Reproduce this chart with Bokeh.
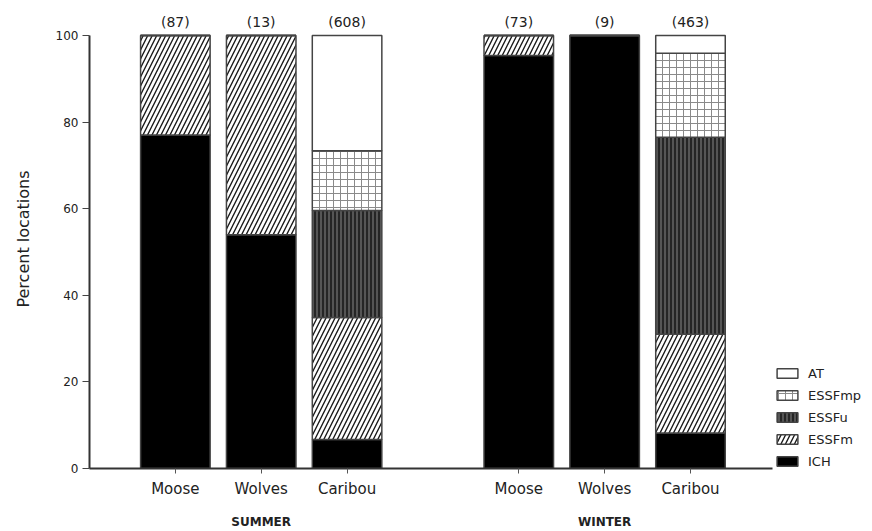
from bokeh.plotting import figure
from bokeh.models import (ColumnDataSource, FixedTicker, Legend, LegendItem,
                          LinearAxis, Range1d)
from bokeh.core.properties import value
from bokeh.embed import file_html
from bokeh.resources import INLINE

seasons = ["SUMMER", "WINTER"]
animals = ["Moose", "Wolves", "Caribou"]
counts = ["(87)", "(13)", "(608)", "(73)", "(9)", "(463)"]
ICH = [77.0, 54.0, 6.7, 95.4, 100.0, 8.2]
ESSFm = [23.0, 46.0, 28.2, 4.6, 0.0, 22.8]
ESSFu = [0.0, 0.0, 24.7, 0.0, 0.0, 45.5]
ESSFmp = [0.0, 0.0, 13.8, 0.0, 0.0, 19.4]
AT = [0.0, 0.0, 26.6, 0.0, 0.0, 4.1]
zones = ["ICH", "ESSFm", "ESSFu", "ESSFmp", "AT"]
yticks = [0, 20, 40, 60, 80, 100]

# category positions: one slot gap between seasons
step = len(animals) + 1
xpos = [g * step + i for g in range(len(seasons)) for i in range(len(animals))]
xlabels = [a for s in seasons for a in animals]
gpos = [g * step + (len(animals) - 1) // 2 for g in range(len(seasons))]

source = ColumnDataSource(dict(x=xpos, ICH=ICH, ESSFm=ESSFm, ESSFu=ESSFu,
                               ESSFmp=ESSFmp, AT=AT, counts=counts,
                               ylab=[103] * len(xpos)))

FONT = "DejaVu Sans"
p = figure(width=872, height=531, x_range=Range1d(-1.0, 8.12),
           y_range=Range1d(0, 106),
           output_backend="svg", toolbar_location=None,
           min_border_left=89, min_border_right=0, min_border_top=9,
           min_border_bottom=63, x_axis_type=None)
p.outline_line_color = None
p.xgrid.visible = False
p.ygrid.visible = False

fills = ["black", "white", "#555555", "white", "white"]
hatches = [" ", "/", "|", "+", " "]
hcolors = ["black", "#1a1a1a", "#151515", "#8a8a8a", "black"]
hscales = [8, 9, 4, 7, 8]
hweights = [1, 1.4, 1.5, 1, 1]

renderers = p.vbar_stack(zones, x="x", width=0.81, source=source,
                         fill_color=fills, hatch_pattern=hatches,
                         hatch_color=hcolors, hatch_scale=hscales,
                         hatch_weight=hweights,
                         line_color="#444444", line_width=1.5)

p.text(x="x", y="ylab", text="counts", source=source,
       text_font=value(FONT), text_font_size="14px", text_color="#222222",
       text_align="center", text_baseline="middle")

legend = Legend(items=[LegendItem(label=z, renderers=[r])
                       for z, r in reversed(list(zip(zones, renderers)))],
                location=(685, -1), orientation="vertical",
                glyph_width=26, glyph_height=12, label_height=16,
                label_standoff=8, spacing=6, padding=0, margin=0,
                border_line_color=None, background_fill_alpha=0,
                label_text_font=FONT, label_text_font_size="13px",
                label_text_color="#222222")
p.add_layout(legend)

ya = p.yaxis[0]
ya.ticker = FixedTicker(ticks=yticks)
ya.bounds = (0, 100)
ya.axis_label = "Percent locations"
ya.axis_label_text_font = FONT
ya.axis_label_text_font_size = "16px"
ya.axis_label_text_font_style = "normal"
ya.axis_label_text_color = "#222222"
ya.axis_label_standoff = 20
ya.major_label_text_font = FONT
ya.major_label_text_font_size = "12px"
ya.major_label_text_color = "#222222"
ya.major_label_standoff = 4
ya.major_tick_out = 7
ya.major_tick_in = 0
ya.minor_tick_line_color = None
ya.axis_line_width = 2
ya.axis_line_color = "#333333"
ya.major_tick_line_color = "#444444"

xa = LinearAxis(ticker=FixedTicker(ticks=xpos), bounds=(-1.0, 6.95),
                major_label_overrides={x: l for x, l in zip(xpos, xlabels)})
xa.major_label_text_font = FONT
xa.major_label_text_font_size = "15px"
xa.major_label_text_color = "#222222"
xa.major_label_standoff = 6
xa.major_tick_out = 5
xa.major_tick_in = 0
xa.minor_tick_line_color = None
xa.axis_line_width = 2
xa.axis_line_color = "#333333"
xa.major_tick_line_color = "#555555"
p.add_layout(xa, "below")

ga = LinearAxis(ticker=FixedTicker(ticks=gpos),
                major_label_overrides={x: s for x, s in zip(gpos, seasons)})
ga.major_label_text_font = FONT
ga.major_label_text_font_size = "12px"
ga.major_label_text_font_style = "bold"
ga.major_label_text_color = "#222222"
ga.major_label_standoff = 14
ga.major_tick_out = 0
ga.major_tick_in = 0
ga.minor_tick_line_color = None
ga.major_tick_line_color = None
ga.axis_line_color = None
p.add_layout(ga, "below")

open("out.html", "w").write(file_html(p, INLINE))
